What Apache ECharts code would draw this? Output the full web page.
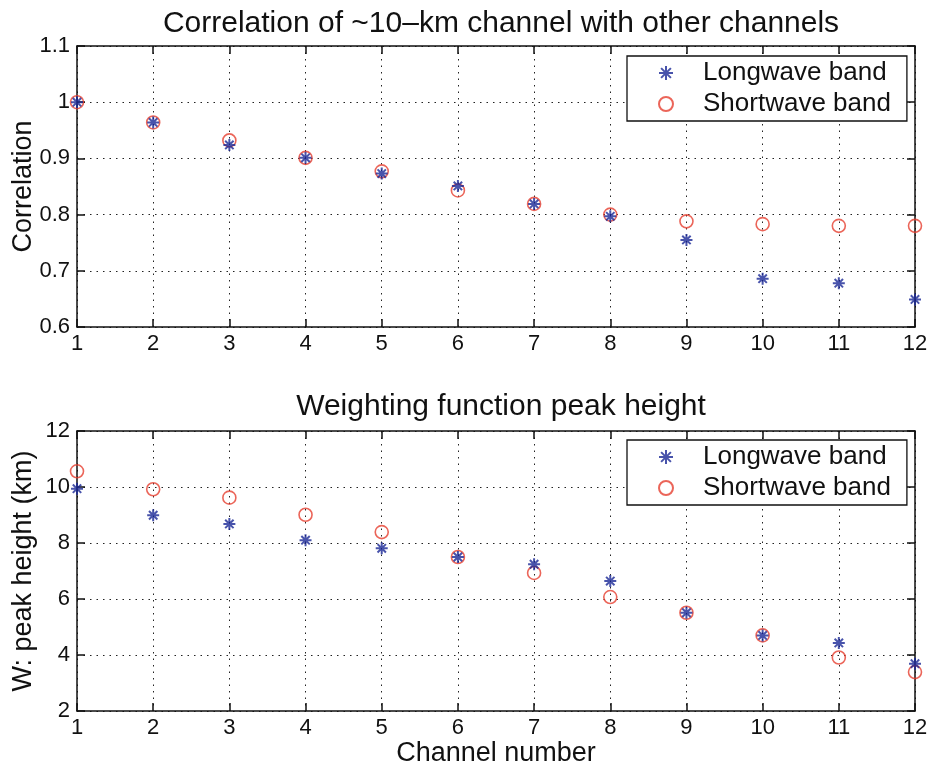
<!DOCTYPE html>
<html>
<head>
<meta charset="utf-8">
<script src="https://cdn.jsdelivr.net/npm/echarts@6/dist/echarts.min.js"></script>
<style>
  html, body { margin: 0; padding: 0; background: #fff; }
  #chart { width: 932px; height: 771px; }
</style>
</head>
<body>
<div id="chart"></div>
<script>
// Channel numbers shared by both panels
const channels = [1, 2, 3, 4, 5, 6, 7, 8, 9, 10, 11, 12];

// Correlation of the ~10-km channel with each channel
const corrLongwave  = [1.000, 0.964, 0.924, 0.901, 0.873, 0.851, 0.819, 0.797, 0.755, 0.686, 0.678, 0.649];
const corrShortwave = [1.000, 0.964, 0.932, 0.901, 0.877, 0.843, 0.819, 0.800, 0.788, 0.783, 0.780, 0.780];

// Weighting function peak height (km)
const peakLongwave  = [9.94, 8.99, 8.68, 8.10, 7.81, 7.50, 7.24, 6.64, 5.51, 4.70, 4.43, 3.69];
const peakShortwave = [10.56, 9.92, 9.62, 9.01, 8.39, 7.50, 6.93, 6.07, 5.51, 4.70, 3.91, 3.39];

const titles = ['Correlation of ~10\u2013km channel with other channels', 'Weighting function peak height'];
const yNames = ['Correlation', 'W: peak height (km)'];
const xName = 'Channel number';
const legendNames = ['Longwave band', 'Shortwave band'];

const FONT = '"Liberation Sans", Arial, Helvetica, sans-serif';
const BLUE = '#1a2896';
const RED = '#e63f2f';
// eight-armed asterisk marker
const STAR = 'path://M5 0L5 10M0 5L10 5M1.5 1.5L8.5 8.5M8.5 1.5L1.5 8.5';

const pair = (xs, ys) => xs.map((x, i) => [x, ys[i]]);

const gridLine = { show: true, lineStyle: { color: '#222', width: 1, type: [1.5, 5] } };
const axisLine = { show: true, onZero: false, lineStyle: { color: '#111', width: 1.5 } };
const tick = { show: true, inside: true, length: 8, lineStyle: { color: '#111', width: 1.5 } };
const lbl = { color: '#111', fontFamily: FONT, fontSize: 22 };

function xAxes(gi, bottom) {
  return [
    { type: 'value', gridIndex: gi, min: 1, max: 12, interval: 1, position: 'bottom',
      axisLine, axisTick: tick, splitLine: gridLine,
      axisLabel: Object.assign({ margin: 6 }, lbl),
      name: bottom ? xName : '', nameLocation: 'middle', nameGap: 29, nameMoveOverlap: false,
      nameTextStyle: { color: '#111', fontFamily: FONT, fontSize: 27 } },
    { type: 'value', gridIndex: gi, min: 1, max: 12, interval: 1, position: 'top',
      axisLine, axisTick: tick, splitLine: { show: false }, axisLabel: { show: false } }
  ];
}

function yAxes(gi, min, max, interval, name) {
  return [
    { type: 'value', gridIndex: gi, min, max, interval, position: 'left',
      axisLine, axisTick: tick, splitLine: gridLine,
      axisLabel: Object.assign({ margin: 7 }, lbl),
      name, nameLocation: 'middle', nameGap: 40, nameMoveOverlap: false,
      nameTextStyle: { color: '#111', fontFamily: FONT, fontSize: 27 } },
    { type: 'value', gridIndex: gi, min, max, interval, position: 'right',
      axisLine, axisTick: tick, splitLine: { show: false }, axisLabel: { show: false } }
  ];
}

function seriesFor(gi, lw, sw) {
  return [
    { name: legendNames[0], type: 'scatter', xAxisIndex: gi * 2, yAxisIndex: gi * 2,
      symbol: STAR, symbolSize: 12, z: 3,
      itemStyle: { color: BLUE, borderColor: BLUE, borderWidth: 2 },
      data: pair(channels, lw) },
    { name: legendNames[1], type: 'scatter', xAxisIndex: gi * 2, yAxisIndex: gi * 2,
      symbol: 'circle', symbolSize: 13, z: 2,
      itemStyle: { color: 'rgba(255,255,255,0)', borderColor: RED, borderWidth: 1.6 },
      data: pair(channels, sw) }
  ];
}

function legendAt(top) {
  return {
    orient: 'vertical', left: 627, top,
    data: legendNames,
    backgroundColor: '#fff', borderColor: '#111', borderWidth: 1.3,
    padding: [2, 16, 2, 31], itemGap: 1, itemWidth: 14, itemHeight: 14,
    selectedMode: false,
    textStyle: { color: '#111', fontFamily: FONT, fontSize: 26, lineHeight: 30, padding: [0, 0, 0, 25] }
  };
}

const chart = echarts.init(document.getElementById('chart'), null, { renderer: 'canvas' });
chart.setOption({
  animation: false,
  backgroundColor: '#fff',
  title: [
    { text: titles[0], left: 496, top: 4, textAlign: 'center',
      textStyle: { color: '#111', fontFamily: FONT, fontSize: 30, fontWeight: 'normal' } },
    { text: titles[1], left: 496, top: 387, textAlign: 'center',
      textStyle: { color: '#111', fontFamily: FONT, fontSize: 30, fontWeight: 'normal' } }
  ],
  grid: [
    { left: 77, right: 17, top: 46, height: 281, outerBoundsMode: 'none' },
    { left: 77, right: 17, top: 431, height: 280, outerBoundsMode: 'none' }
  ],
  xAxis: [...xAxes(0, false), ...xAxes(1, true)],
  yAxis: [...yAxes(0, 0.6, 1.1, 0.1, yNames[0]), ...yAxes(1, 2, 12, 2, yNames[1])],
  legend: [legendAt(56), legendAt(440)],
  series: [...seriesFor(0, corrLongwave, corrShortwave), ...seriesFor(1, peakLongwave, peakShortwave)]
});
</script>
</body>
</html>
